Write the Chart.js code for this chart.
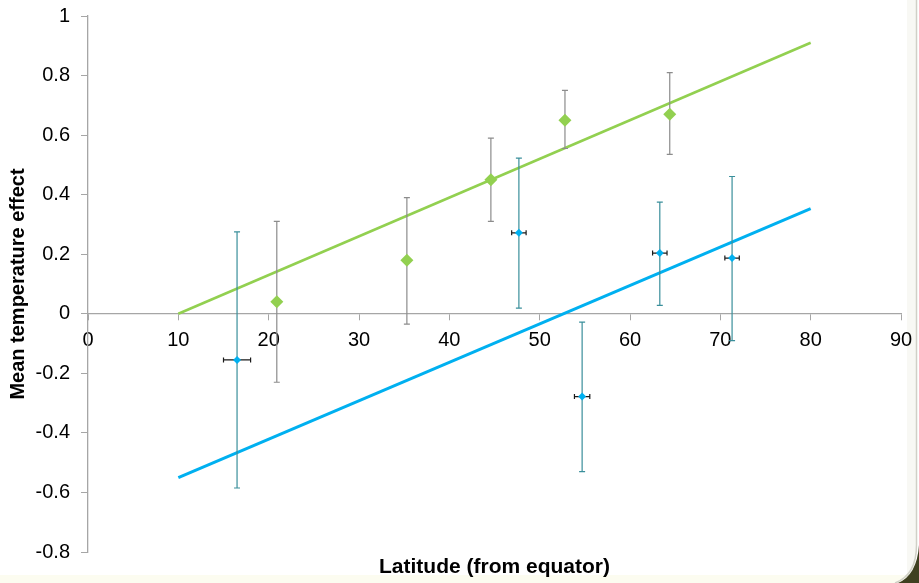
<!DOCTYPE html>
<html>
<head>
<meta charset="utf-8">
<title>Mean temperature effect by latitude</title>
<script src="https://cdn.jsdelivr.net/npm/chart.js@4.4.1/dist/chart.umd.min.js"></script>
<style>
  html, body { margin: 0; padding: 0; background: #ffffff; }
  #wrap { width: 919px; height: 583px; }
</style>
</head>
<body>
<div id="wrap"><canvas id="latChart" width="919" height="583"></canvas></div>
<script>
// axis ticks
const xTicks = [0, 10, 20, 30, 40, 50, 60, 70, 80, 90];
const yTicks = [-0.8, -0.6, -0.4, -0.2, 0, 0.2, 0.4, 0.6, 0.8, 1];

// green series (diamonds, grey error bars)
const greenLat = [20.9, 35.3, 44.6, 52.8, 64.4];
const greenEffect = [0.04, 0.18, 0.45, 0.65, 0.67];
const greenErrHigh = [0.31, 0.39, 0.59, 0.75, 0.81];
const greenErrLow = [-0.23, -0.035, 0.31, 0.555, 0.535];

// blue series (small diamonds, teal y error bars, black x error bars)
const blueLat = [16.5, 47.7, 54.7, 63.3, 71.3];
const blueEffect = [-0.155, 0.272, -0.278, 0.204, 0.187];
const blueErrHigh = [0.275, 0.523, -0.028, 0.375, 0.461];
const blueErrLow = [-0.585, 0.019, -0.53, 0.028, -0.09];
const blueLatErr = [1.5, 0.8, 0.85, 0.8, 0.8];

// linear trend lines
const trendLat = [10, 80];
const greenTrend = [0, 0.91];
const blueTrend = [-0.55, 0.353];

const GREEN = "#92d050";
const BLUE = "#00b0f0";

const toPoints = (xs, ys) => xs.map((x, i) => ({ x: x, y: ys[i] }));

// background: white page, cream strip at bottom, grey frame on right
const backdrop = {
    id: "backdrop",
    beforeDraw(chart) {
        const ctx = chart.ctx;
        ctx.save();
        ctx.fillStyle = "#ffffff";
        ctx.fillRect(0, 0, chart.width, chart.height);
        ctx.fillStyle = "#fcfcf0";
        ctx.fillRect(0, 575, chart.width, chart.height - 575);
        ctx.fillStyle = "#f8f8f4";
        ctx.fillRect(907, 0, 9, 575);
        ctx.strokeStyle = "#d0d0c6";
        ctx.lineWidth = 1.5;
        ctx.beginPath();
        ctx.moveTo(916.5, 0);
        ctx.lineTo(916.5, 545);
        ctx.quadraticCurveTo(916.5, 575, 895, 583);
        ctx.stroke();
        ctx.fillStyle = "#3f4020";
        ctx.beginPath();
        ctx.moveTo(919, 545);
        ctx.lineTo(919, 583);
        ctx.lineTo(898, 583);
        ctx.quadraticCurveTo(917, 575, 919, 545);
        ctx.fill();
        ctx.restore();
    }
};

// error bars, drawn just before the marker datasets
const errorBars = {
    id: "errorBars",
    beforeDatasetDraw(chart, args) {
        const xs = chart.scales.x;
        const ys = chart.scales.y;
        const ctx = chart.ctx;
        const vBar = (x, lo, hi, cap, color) => {
            const px = xs.getPixelForValue(x);
            const p1 = ys.getPixelForValue(lo);
            const p2 = ys.getPixelForValue(hi);
            ctx.strokeStyle = color;
            ctx.beginPath();
            ctx.moveTo(px, p1); ctx.lineTo(px, p2);
            ctx.moveTo(px - cap, p1); ctx.lineTo(px + cap, p1);
            ctx.moveTo(px - cap, p2); ctx.lineTo(px + cap, p2);
            ctx.stroke();
        };
        const hBar = (y, lo, hi, cap, color) => {
            const py = ys.getPixelForValue(y);
            const p1 = xs.getPixelForValue(lo);
            const p2 = xs.getPixelForValue(hi);
            ctx.strokeStyle = color;
            ctx.beginPath();
            ctx.moveTo(p1, py); ctx.lineTo(p2, py);
            ctx.moveTo(p1, py - cap); ctx.lineTo(p1, py + cap);
            ctx.moveTo(p2, py - cap); ctx.lineTo(p2, py + cap);
            ctx.stroke();
        };
        ctx.save();
        ctx.lineWidth = 1.2;
        if (args.index === 2) {
            greenLat.forEach((x, i) => vBar(x, greenErrLow[i], greenErrHigh[i], 3, "#8c8c8c"));
        }
        if (args.index === 3) {
            blueLat.forEach((x, i) => vBar(x, blueErrLow[i], blueErrHigh[i], 3, "#3a8f9b"));
            blueLat.forEach((x, i) => hBar(blueEffect[i], x - blueLatErr[i], x + blueLatErr[i], 2.5, "#1a1a1a"));
        }
        ctx.restore();
    }
};

const tickFont = { family: "'Liberation Sans', Arial, sans-serif", size: 20 };
const titleFont = { family: "'Liberation Sans', Arial, sans-serif", size: 20, weight: "bold" };

const latChart = new Chart(document.getElementById("latChart").getContext("2d"), {
    type: "scatter",
    data: {
        datasets: [
            {
                label: "Green trend",
                data: toPoints(trendLat, greenTrend),
                showLine: true,
                borderColor: GREEN,
                borderWidth: 2.6,
                pointRadius: 0,
                order: 3
            },
            {
                label: "Blue trend",
                data: toPoints(trendLat, blueTrend),
                showLine: true,
                borderColor: BLUE,
                borderWidth: 3,
                pointRadius: 0,
                order: 2
            },
            {
                label: "Green",
                data: toPoints(greenLat, greenEffect),
                pointStyle: "rectRot",
                pointRadius: 6.5,
                backgroundColor: GREEN,
                borderColor: GREEN,
                borderWidth: 0,
                order: 1
            },
            {
                label: "Blue",
                data: toPoints(blueLat, blueEffect),
                pointStyle: "rectRot",
                pointRadius: 4,
                backgroundColor: BLUE,
                borderColor: BLUE,
                borderWidth: 0,
                order: 0
            }
        ]
    },
    options: {
        responsive: false,
        devicePixelRatio: 1,
        animation: false,
        layout: { padding: { top: 16, right: 18, left: 0, bottom: 0 } },
        plugins: {
            legend: { display: false },
            tooltip: { enabled: false }
        },
        scales: {
            x: {
                type: "linear",
                position: { y: 0 },
                min: 0,
                max: 90,
                afterBuildTicks: (s) => { s.ticks = xTicks.map(v => ({ value: v })); },
                ticks: { font: tickFont, color: "#000000", padding: 9, maxRotation: 0, callback: (v) => String(v) },
                grid: { drawOnChartArea: false, drawTicks: true, tickLength: 6, color: "#a6a6a6" },
                border: { display: true, color: "#a6a6a6", width: 1.3 },
                afterFit: (s) => { s.paddingLeft = 0; s.paddingRight = 0; }
            },
            x2: {
                type: "linear",
                position: "bottom",
                min: 0,
                max: 90,
                ticks: { display: false },
                grid: { display: false },
                border: { display: false },
                title: { display: true, text: "Latitude (from equator)", font: { ...titleFont, size: 21 }, color: "#000000", padding: { top: 0, bottom: 3 } },
                afterFit: (s) => { s.height = 31; s.paddingLeft = 0; s.paddingRight = 0; }
            },
            y: {
                type: "linear",
                position: "left",
                min: -0.8,
                max: 1,
                afterBuildTicks: (s) => { s.ticks = yTicks.map(v => ({ value: v })); },
                ticks: { font: tickFont, color: "#000000", padding: 11, callback: (v) => String(v) },
                grid: { drawOnChartArea: false, drawTicks: true, tickLength: 7, color: "#a6a6a6" },
                border: { display: true, color: "#a6a6a6", width: 1.3 },
                title: { display: true, text: "Mean temperature effect", font: titleFont, color: "#000000", padding: { top: 6, bottom: 0 } },
                afterFit: (s) => { s.width = 88; s.paddingTop = 0; s.paddingBottom = 0; }
            }
        }
    },
    plugins: [backdrop, errorBars]
});
</script>
</body>
</html>
